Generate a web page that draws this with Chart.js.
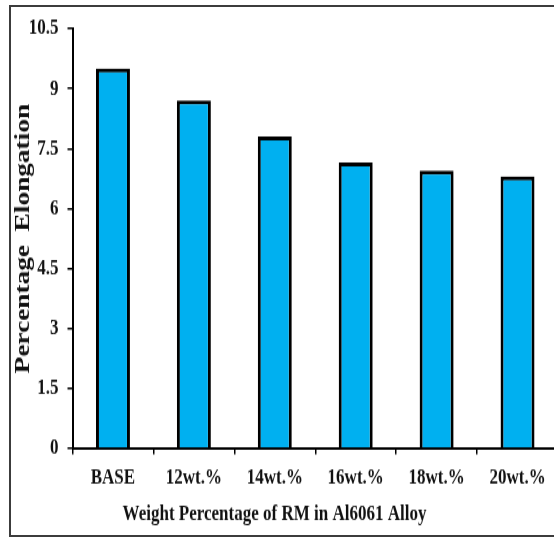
<!DOCTYPE html>
<html>
<head>
<meta charset="utf-8">
<script src="https://cdn.jsdelivr.net/npm/chart.js@4"></script>
<style>
  html, body { margin: 0; padding: 0; background: #fff; }
  #page { position: relative; width: 554px; height: 537px; overflow: hidden; background: #fff; }
  #frame { position: absolute; left: 9px; top: 5px; width: 620px; height: 528px; border: 2px solid #3c3c3c; }
  /* the reference picture is stretched vertically, so draw short and scale up */
  #wrap { position: absolute; left: 0; top: 0; width: 600px; height: 413px; transform: scaleY(1.3); transform-origin: 0 0; }
</style>
</head>
<body>
<div id="page">
  <div id="frame"></div>
  <div id="wrap"><canvas id="chart" width="600" height="413"></canvas></div>
</div>
<script>
const categories = ["BASE", "12wt.%", "14wt.%", "16wt.%", "18wt.%", "20wt.%"];
const elongation = [9.5, 8.7, 7.8, 7.15, 6.95, 6.8];
const yTicks = [0, 1.5, 3, 4.5, 6, 7.5, 9, 10.5];
const yTitle = "Percentage  Elongation";
const xTitle = "Weight Percentage of RM in Al6061 Alloy";

const serif = '"Liberation Serif", "Times New Roman", serif';

// x title sits left of the plot centre in the reference, so draw it by hand
const xTitlePlugin = {
  id: "xTitle",
  afterDraw(chart) {
    const { ctx, chartArea } = chart;
    ctx.save();
    ctx.font = "bold 17px " + serif;
    ctx.fillStyle = "#111";
    ctx.textAlign = "center";
    ctx.textBaseline = "middle";
    ctx.fillText(xTitle, chartArea.left + 202, chartArea.bottom + 51);
    ctx.restore();
  },
};

const ctx = document.getElementById("chart");

new Chart(ctx, {
  type: "bar",
  data: {
    labels: categories,
    datasets: [
      {
        data: elongation,
        backgroundColor: "#00B0F0",
        borderColor: "#000",
        borderWidth: 3,
        borderSkipped: "bottom",
        barPercentage: 0.42,
        categoryPercentage: 1,
      },
    ],
  },
  options: {
    responsive: false,
    animation: false,
    devicePixelRatio: 1,
    layout: { padding: { left: 0, top: 22, right: 42, bottom: 0 } },
    plugins: {
      legend: { display: false },
      tooltip: { enabled: false },
    },
    scales: {
      x: {
        offset: true,
        grid: {
          offset: true,
          drawOnChartArea: false,
          drawTicks: true,
          tickLength: 4.5,
          color: "#000",
          lineWidth: 1.5,
        },
        border: { display: true, color: "#000", width: 2 },
        ticks: {
          color: "#111",
          padding: 8,
          maxRotation: 0,
          font: { family: serif, size: 17, weight: "bold" },
        },
        afterFit: (scale) => { scale.height = 68; },
      },
      y: {
        min: 0,
        max: 10.5,
        afterBuildTicks: (scale) => { scale.ticks = yTicks.map((v) => ({ value: v })); },
        grid: {
          drawOnChartArea: false,
          drawTicks: true,
          tickLength: 5,
          color: "#000",
          lineWidth: 1.5,
        },
        border: { display: true, color: "#000", width: 2 },
        ticks: {
          color: "#111",
          padding: 9,
          font: { family: serif, size: 17, weight: "bold" },
        },
        title: {
          display: true,
          text: yTitle,
          color: "#111",
          padding: { top: 11, bottom: 0 },
          font: { family: serif, size: 21, weight: "bold" },
        },
        afterFit: (scale) => { scale.width = 72.5; },
      },
    },
  },
  plugins: [xTitlePlugin],
});
</script>
</body>
</html>
